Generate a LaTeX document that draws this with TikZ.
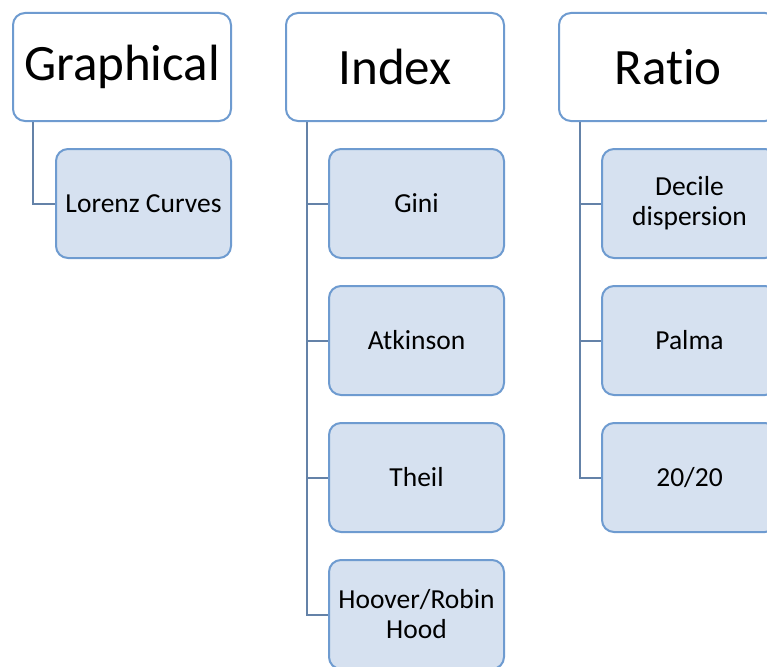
\documentclass[tikz,border=0pt]{standalone}
\usepackage{fontspec}
\setmainfont[Ligatures=NoCommon]{Carlito}
\definecolor{bordc}{RGB}{110,155,208}
\definecolor{fillc}{RGB}{214,225,240}
\definecolor{linec}{RGB}{100,130,168}
\begin{document}
\begin{tikzpicture}[x=1pt,y=-1pt,
  header/.style={draw=bordc,line width=2pt,fill=white,rounded corners=12pt,
    minimum width=218pt,minimum height=108pt,inner sep=0pt,
    font=\fontsize{51}{57}\selectfont},
  child/.style={draw=bordc,line width=2pt,fill=fillc,rounded corners=12pt,
    minimum width=175pt,minimum height=109pt,inner sep=0pt,align=center,
    font=\fontsize{27.5}{30}\selectfont},
  conn/.style={draw=linec,line width=2pt}]
\useasboundingbox (0,0) rectangle (767,666);
\clip (0,0) rectangle (767,666);
% headers
\node[header] (g) at (122,67) {Graphical};
\node[header] (i) at (395,67) {Index};
\node[header] (r) at (668,67) {Ratio};
% children
\node[child] (lc) at (143.5,203.5) {Lorenz Curves};
\node[child] (gi) at (416.5,203.5) {Gini};
\node[child] (at) at (416.5,340.5) {Atkinson};
\node[child] (th) at (416.5,477.5) {Theil};
\node[child] (ho) at (416.5,614.5) {Hoover/Robin\\Hood};
\node[child] (dd) at (689.5,203.5) {Decile\\dispersion};
\node[child] (pa) at (689.5,340.5) {Palma};
\node[child] (tt) at (689.5,477.5) {20/20};
% connectors
\coordinate (gs) at ([xshift=21pt]g.south west);
\coordinate (is) at ([xshift=22pt]i.south west);
\coordinate (rs) at ([xshift=22pt]r.south west);
\draw[conn] (gs) |- (lc.west);
\draw[conn] (is) |- (gi.west);
\draw[conn] (is) |- (at.west);
\draw[conn] (is) |- (th.west);
\draw[conn] (is) |- (ho.west);
\draw[conn] (rs) |- (dd.west);
\draw[conn] (rs) |- (pa.west);
\draw[conn] (rs) |- (tt.west);
\end{tikzpicture}
\end{document}
